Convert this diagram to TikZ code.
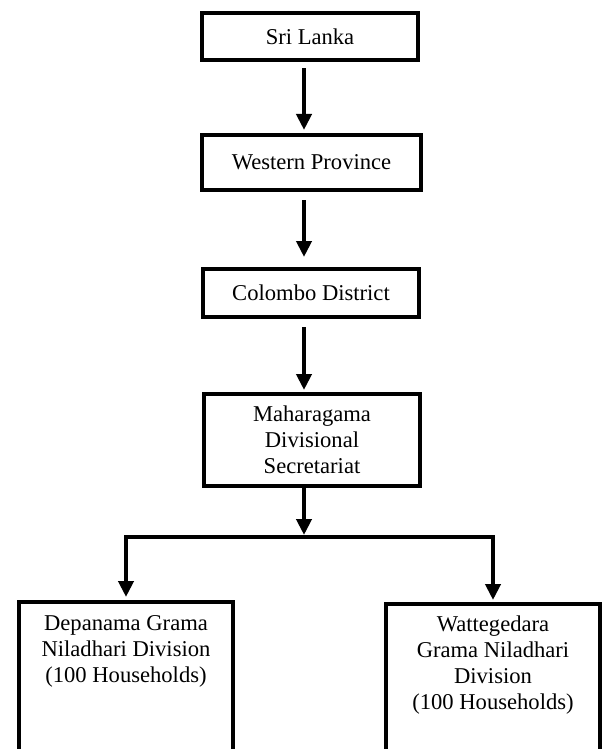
\documentclass[tikz,border=0pt]{standalone}
\usepackage{fontspec}
\setmainfont{Liberation Serif}
\usetikzlibrary{arrows.meta}
\begin{document}
\begin{tikzpicture}[x=1pt,y=-1pt,
  box/.style={draw=black,line width=4pt,inner sep=0pt,align=center,
    font=\fontsize{22.6pt}{26pt}\selectfont},
  lbl/.style={inner sep=0pt,align=center,font=\fontsize{22.6pt}{26pt}\selectfont},
  arr/.style={line width=4pt,line join=miter,-{Triangle[length=16pt,width=15pt]}}]
\useasboundingbox (0,0) rectangle (606,749);
\clip (0,0) rectangle (606,749);
% boxes
\node[box,minimum width=216pt,minimum height=47pt] (sri) at (310,37) {Sri Lanka};
\node[box,minimum width=219pt,minimum height=55pt] (west) at (311.5,162.5) {Western Province};
\node[box,minimum width=216pt,minimum height=48pt] (col) at (311,293) {Colombo District};
\node[box,minimum width=216pt,minimum height=92pt] (mah) at (312,440) {Maharagama\\Divisional\\Secretariat};
\node[box,minimum width=214pt,minimum height=200pt,anchor=north] (dep) at (126,600) {};
\node[box,minimum width=214pt,minimum height=200pt,anchor=north] (wat) at (493,602) {};
\node[lbl] (deptext) at (126,651) {Depanama Grama\\Niladhari Division\\(100 Households)};
\node[lbl] (wattext) at (493,665) {Wattegedara\\Grama Niladhari\\Division\\(100 Households)};
% connector helpers
\coordinate (ax) at (304,0);
\coordinate (bar) at (304,537);
% arrows
\draw[arr] ([yshift=-6pt]sri.south -| ax) -- ([yshift=3pt]west.north -| ax);
\draw[arr] ([yshift=-8pt]west.south -| ax) -- ([yshift=10pt]col.north -| ax);
\draw[arr] ([yshift=-8pt]col.south -| ax) -- ([yshift=2pt]mah.north -| ax);
\draw[arr] (mah.south -| ax) -- ([yshift=2pt]bar);
\draw[arr] (bar) -| ([yshift=3pt]dep.north);
\draw[arr] (bar) -| ([yshift=2pt]wat.north);
\end{tikzpicture}
\end{document}
